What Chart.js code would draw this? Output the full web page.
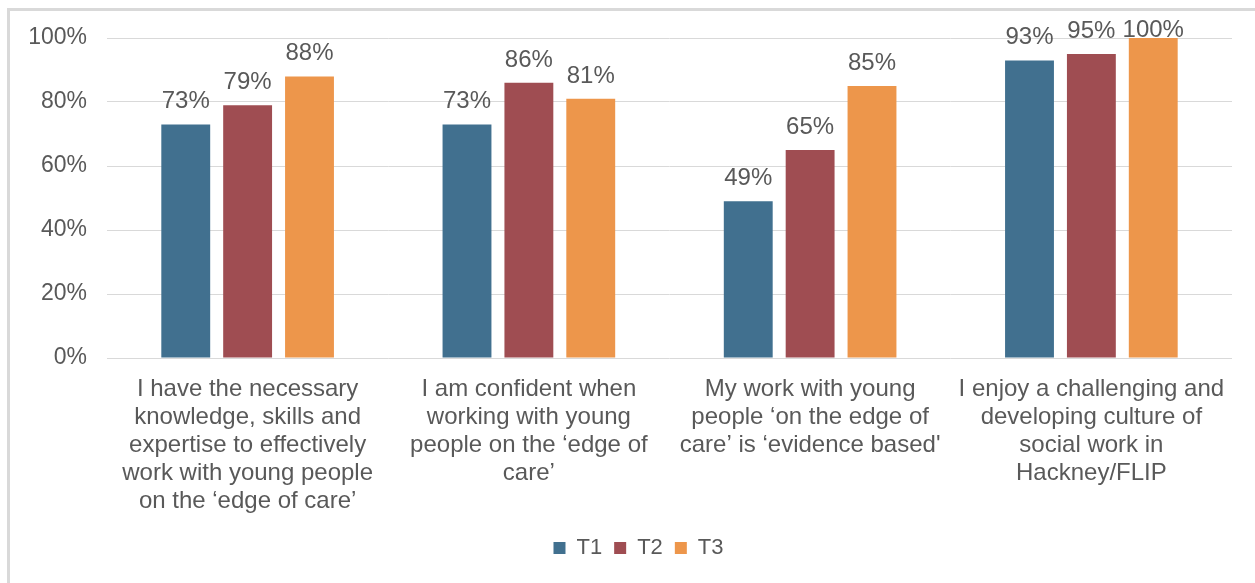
<!DOCTYPE html>
<html>
<head>
<meta charset="utf-8">
<script src="https://cdn.jsdelivr.net/npm/chart.js@4/dist/chart.umd.min.js"></script>
<style>
  body { margin: 0; background: #fff; overflow: hidden; }
  #frame { position: absolute; left: 7px; top: 8px; width: 1400px; height: 800px; border: 3px solid #d9d9d9; }
  #wrap { position: absolute; left: 0; top: 0; width: 1255px; height: 583px; }
</style>
</head>
<body>
<div id="frame"></div>
<div id="wrap"><canvas id="chart"></canvas></div>
<script>
// categories (wrapped the same way as the original)
var categories = [
    ['I have the necessary', 'knowledge, skills and', 'expertise to effectively', 'work with young people', 'on the \u2018edge of care\u2019'],
    ['I am confident when', 'working with young', 'people on the \u2018edge of', 'care\u2019'],
    ['My work with young', 'people \u2018on the edge of', 'care\u2019 is \u2018evidence based\''],
    ['I enjoy a challenging and', 'developing culture of', 'social work in', 'Hackney/FLIP']
];
var seriesNames = ['T1', 'T2', 'T3'];
var t1 = [73, 73, 49, 93];
var t2 = [79, 86, 65, 95];
var t3 = [88, 81, 85, 100];
var colors = ['#41708f', '#9f4d52', '#ed964b'];
var yTicks = [0, 20, 40, 60, 80, 100];

var textColor = '#595959';
var fontFamily = '"Liberation Sans", Arial, sans-serif';

// value labels above each bar
var barLabels = {
    id: 'barLabels',
    afterDatasetsDraw: function(chart) {
        var ctx = chart.ctx;
        ctx.save();
        ctx.font = '24px ' + fontFamily;
        ctx.fillStyle = textColor;
        ctx.textAlign = 'center';
        ctx.textBaseline = 'alphabetic';
        chart.data.datasets.forEach(function(ds, i) {
            var meta = chart.getDatasetMeta(i);
            meta.data.forEach(function(bar, j) {
                var y = Math.max(bar.y - 16, chart.chartArea.top - 1);
                ctx.fillText(ds.data[j] + '%', bar.x, y);
            });
        });
        ctx.restore();
    }
};

// legend sits centred under the plot area, not the whole canvas
var legendShift = {
    id: 'legendShift',
    afterLayout: function(chart) {
        var off = chart.chartArea.left / 2 - 31;
        chart.legend.left += off;
        chart.legend.right += off;
    }
};

var datasets = [t1, t2, t3].map(function(vals, i) {
    return {
        label: seriesNames[i],
        data: vals,
        backgroundColor: colors[i],
        borderWidth: 0,
        categoryPercentage: 0.66,
        barPercentage: 0.79
    };
});

new Chart(document.getElementById('chart'), {
    type: 'bar',
    data: { labels: categories, datasets: datasets },
    plugins: [barLabels, legendShift],
    options: {
        responsive: true,
        maintainAspectRatio: false,
        animation: false,
        layout: { padding: { left: 0, right: 23, top: 38, bottom: 14 } },
        plugins: {
            tooltip: { enabled: false },
            legend: {
                position: 'bottom',
                labels: {
                    boxWidth: 12,
                    boxHeight: 12,
                    padding: 12,
                    color: textColor,
                    font: { family: fontFamily, size: 22 }
                }
            }
        },
        scales: {
            x: {
                grid: { display: false },
                border: { display: false },
                ticks: {
                    color: textColor,
                    maxRotation: 0,
                    autoSkip: false,
                    padding: 9,
                    font: { family: fontFamily, size: 24, lineHeight: 1.17 }
                },
                afterFit: function(s) { s.height = 167; }
            },
            y: {
                min: 0,
                max: 100,
                afterBuildTicks: function(s) { s.ticks = yTicks.map(function(v) { return { value: v }; }); },
                grid: { color: '#d9d9d9', drawTicks: false },
                border: { display: false },
                ticks: {
                    color: textColor,
                    padding: 20,
                    font: { family: fontFamily, size: 23 },
                    callback: function(v) { return v + '%'; }
                },
                afterFit: function(s) { s.width = 107; }
            }
        }
    }
});
</script>
</body>
</html>
